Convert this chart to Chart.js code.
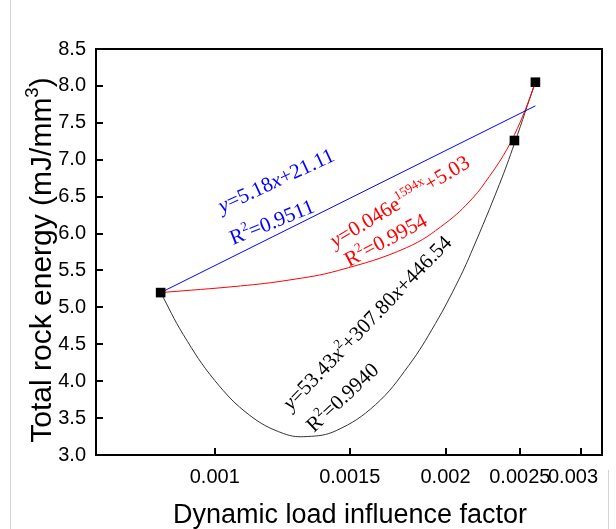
<!DOCTYPE html>
<html>
<head>
<meta charset="utf-8">
<script src="https://cdn.jsdelivr.net/npm/chart.js@4.4.1/dist/chart.umd.min.js"></script>
<style>
  html, body { margin: 0; padding: 0; background: #fff; }
  #wrap { position: relative; width: 616px; height: 529px; }
  .frame { position: absolute; background: #d4d4d4; }
</style>
</head>
<body>
<div id="wrap">
  <canvas id="chart" width="616" height="529"></canvas>
  <div class="frame" style="left:10px;top:0;width:1px;height:529px"></div>
  <div class="frame" style="left:608px;top:470px;width:1px;height:59px"></div>
</div>
<script>
// measured points
const pointX = [0.00085, 0.00246, 0.00262];
const pointY = [5.20, 7.26, 8.05];

// linear fit (blue)
const linX = [0.00085, 0.00262];
const linY = [5.20, 7.73];

// exponential fit (red)
const expX = [0.00085, 0.00108, 0.00125, 0.00145, 0.00178, 0.00200, 0.00217, 0.00228, 0.00238, 0.00246, 0.00254, 0.00262];
const expY = [5.20, 5.29, 5.37, 5.50, 5.81, 6.14, 6.48, 6.77, 7.06, 7.34, 7.67, 8.04];

// quadratic fit (black)
const quadX = [0.00085, 0.00091, 0.00100, 0.00111, 0.00123, 0.00132, 0.00144, 0.00162, 0.00179, 0.00194, 0.00208, 0.00217, 0.00235, 0.00246, 0.00262];
const quadY = [5.20, 4.63, 4.01, 3.54, 3.29, 3.25, 3.33, 3.68, 4.21, 4.78, 5.37, 5.79, 6.66, 7.22, 8.06];

const xTicks = [0.001, 0.0015, 0.002, 0.0025, 0.003];
const xTickLabels = ["0.001", "0.0015", "0.002", "0.0025", "0.003"];
const yTicks = [3.0, 3.5, 4.0, 4.5, 5.0, 5.5, 6.0, 6.5, 7.0, 7.5, 8.0, 8.5];

const toXY = (xs, ys) => xs.map((x, i) => ({ x: x, y: ys[i] }));

const SANS = "'Liberation Sans', Arial, sans-serif";
const SERIF = "'Liberation Serif', 'Times New Roman', serif";

// fit equations drawn as rotated text
const notes = [
  { runs: [{ t: "y", i: 1 }, { t: "=5.18" }, { t: "x", i: 1 }, { t: "+21.11" }], x: 222, y: 213, a: -25, c: "#0000ff" },
  { runs: [{ t: "R" }, { t: "2", s: 1 }, { t: "=0.9511" }], x: 233, y: 245, a: -22, c: "#0000ff" },
  { runs: [{ t: "y", i: 1 }, { t: "=0.046e" }, { t: "1594x", s: 1 }, { t: "+5.03" }], x: 335, y: 248, a: -31, c: "#ff0000" },
  { runs: [{ t: "R" }, { t: "2", s: 1 }, { t: "=0.9954" }], x: 349, y: 267, a: -28, c: "#ff0000" },
  { runs: [{ t: "y", i: 1 }, { t: "=53.43" }, { t: "x", i: 1 }, { t: "2", s: 1 }, { t: "+307.80" }, { t: "x", i: 1 }, { t: "+446.54" }], x: 291, y: 411, a: -46, c: "#000" },
  { runs: [{ t: "R" }, { t: "2", s: 1 }, { t: "=0.9940" }], x: 314, y: 433, a: -43, c: "#000" }
];

function runsWidth(ctx, runs, size, family) {
  let w = 0;
  runs.forEach(r => {
    ctx.font = (r.i ? "italic " : "") + (r.s ? size * 0.62 : size) + "px " + family;
    w += ctx.measureText(r.t).width;
  });
  return w;
}

function drawRuns(ctx, runs, x, y, angle, size, family, color, center) {
  ctx.save();
  ctx.translate(x, y);
  ctx.rotate(angle * Math.PI / 180);
  ctx.fillStyle = color;
  ctx.textBaseline = "alphabetic";
  ctx.textAlign = "left";
  let cx = center ? -runsWidth(ctx, runs, size, family) / 2 : 0;
  runs.forEach(r => {
    const s = r.s ? size * 0.62 : size;
    ctx.font = (r.i ? "italic " : "") + s + "px " + family;
    ctx.fillText(r.t, cx, r.s ? -size * 0.42 : 0);
    cx += ctx.measureText(r.t).width;
  });
  ctx.restore();
}

const decor = {
  id: "decor",
  afterDraw(chart) {
    const ctx = chart.ctx;
    const a = chart.chartArea;
    const xs = chart.scales.x, ys = chart.scales.y;
    ctx.save();
    ctx.strokeStyle = "#000";
    ctx.lineWidth = 2;
    ctx.strokeRect(a.left, a.top, a.right - a.left, a.bottom - a.top);
    ctx.beginPath();
    xTicks.forEach(v => {
      const px = Math.round(xs.getPixelForValue(v));
      ctx.moveTo(px, a.bottom);
      ctx.lineTo(px, a.bottom - 7);
    });
    yTicks.forEach(v => {
      const py = Math.round(ys.getPixelForValue(v));
      ctx.moveTo(a.left, py);
      ctx.lineTo(a.left + 7, py);
    });
    ctx.stroke();

    // x tick labels; the last one is pulled inside the frame
    ctx.fillStyle = "#000";
    ctx.font = "20px " + SANS;
    ctx.textBaseline = "alphabetic";
    xTicks.forEach((v, i) => {
      const px = xs.getPixelForValue(v);
      if (i === xTicks.length - 1) {
        ctx.textAlign = "right";
        ctx.fillText(xTickLabels[i], a.right - 4, 483);
      } else {
        ctx.textAlign = "center";
        ctx.fillText(xTickLabels[i], px, 483);
      }
    });
    ctx.restore();

    notes.forEach(n => drawRuns(ctx, n.runs, n.x, n.y, n.a, 21, SERIF, n.c, false));

    // axis titles
    drawRuns(ctx, [{ t: "Dynamic load influence factor" }], (a.left + a.right) / 2 + 1, 523, 0, 27, SANS, "#000", true);
    drawRuns(ctx, [{ t: "Total rock energy (mJ/mm" }, { t: "3", s: 1 }, { t: ")" }], 51, 260, -90, 30, SANS, "#000", true);
  }
};

new Chart(document.getElementById("chart"), {
  type: "scatter",
  data: {
    datasets: [
      {
        data: toXY(pointX, pointY),
        showLine: false,
        pointStyle: "rect",
        pointRadius: 6.8,
        pointHoverRadius: 6.8,
        backgroundColor: "#000",
        borderColor: "#000",
        borderWidth: 0
      },
      {
        data: toXY(linX, linY),
        showLine: true,
        borderColor: "#0000ff",
        borderWidth: 1,
        pointRadius: 0
      },
      {
        data: toXY(expX, expY),
        showLine: true,
        borderColor: "#ff0000",
        borderWidth: 1,
        pointRadius: 0,
        tension: 0.4
      },
      {
        data: toXY(quadX, quadY),
        showLine: true,
        borderColor: "#333",
        borderWidth: 1,
        pointRadius: 0,
        tension: 0.4
      }
    ]
  },
  options: {
    responsive: false,
    animation: false,
    layout: { padding: { left: 0, top: 49, right: 14, bottom: 0 } },
    plugins: { legend: { display: false }, tooltip: { enabled: false } },
    scales: {
      x: {
        type: "logarithmic",
        min: 0.0007,
        max: 0.0032,
        afterBuildTicks: (s) => { s.ticks = xTicks.map(v => ({ value: v })); },
        afterFit: (s) => { s.height = 74; },
        grid: { display: false, drawTicks: false },
        border: { display: false },
        ticks: { display: false }
      },
      y: {
        min: 3,
        max: 8.5,
        afterBuildTicks: (s) => { s.ticks = yTicks.map(v => ({ value: v })); },
        afterFit: (s) => { s.width = 96; },
        grid: { display: false, drawTicks: false },
        border: { display: false },
        ticks: {
          padding: 10,
          color: "#000",
          font: { family: SANS, size: 20 },
          callback: (v) => v.toFixed(1)
        }
      }
    }
  },
  plugins: [decor]
});
</script>
</body>
</html>
